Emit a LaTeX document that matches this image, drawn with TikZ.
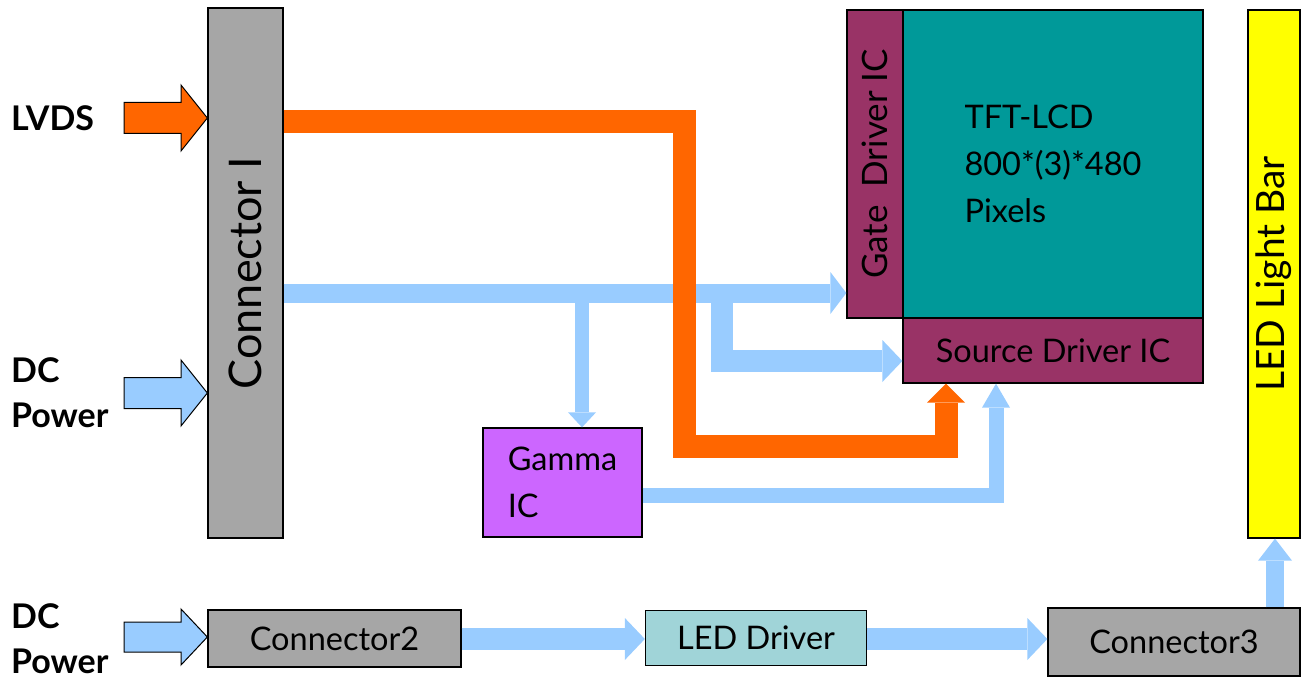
\documentclass[tikz,border=0pt]{standalone}
\usepackage{fontspec}
\usepackage{graphicx}
\setmainfont{Lato}
\usetikzlibrary{arrows.meta}
\definecolor{corange}{HTML}{FF6600}
\definecolor{cblue}{HTML}{99CCFF}
\definecolor{cgray}{HTML}{A6A6A6}
\definecolor{cmaroon}{HTML}{993366}
\definecolor{cteal}{HTML}{009999}
\definecolor{cpurple}{HTML}{CC66FF}
\definecolor{cyellow}{HTML}{FFFF00}
\definecolor{cledd}{HTML}{A0D4D8}
\tikzset{
  box/.style={draw=black, line width=1.3pt, inner sep=0pt, font=\fontsize{32.5}{47}\selectfont},
  inarrow/.style={draw=black, line width=1pt, line join=miter},
  inlabel/.style={anchor=west, align=left, inner sep=0pt, font=\fontsize{34}{45}\selectfont\bfseries},
  orangeln/.style={draw=corange, line width=23pt, -{Triangle[length=19pt,width=38pt,line width=0pt]}},
  bluemain/.style={draw=cblue, line width=19pt, -{Triangle[length=16pt,width=42pt,line width=0pt]}},
  bluethin/.style={draw=cblue, line width=14pt, -{Triangle[length=15pt,width=28pt,line width=0pt]}},
  bluewide/.style={draw=cblue, line width=22pt, -{Triangle[length=20pt,width=42pt,line width=0pt]}},
  bluegam/.style={draw=cblue, line width=15pt, -{Triangle[length=24pt,width=28pt,line width=0pt]}},
  bluebar/.style={draw=cblue, line width=18pt, -{Triangle[length=22pt,width=34pt,line width=0pt]}},
}
\begin{document}
\begin{tikzpicture}[x=1pt,y=-1pt]
\useasboundingbox (0,0) rectangle (1303,682);
% boxes
\node[box, fill=cgray, minimum width=75pt, minimum height=530pt] (con1) at (245.5,273)
  {\rotatebox{90}{\fontsize{45}{50}\selectfont Connector I}};
\node[box, fill=cmaroon, minimum width=56pt, minimum height=308pt] (gate) at (875,164)
  {\rotatebox{90}{\fontsize{35}{40}\selectfont Gate~ Driver IC}};
\node[box, fill=cteal, minimum width=300pt, minimum height=308pt, align=left] (tft) at (1053,164)
  {TFT-LCD\\800*(3)*480\\Pixels};
\node[box, fill=cmaroon, minimum width=300pt, minimum height=65pt] (src) at (1053,350.5) {Source Driver IC};
\node[box, fill=cyellow, minimum width=52pt, minimum height=528pt] (bar) at (1274,274)
  {\rotatebox{90}{\fontsize{39}{42}\selectfont LED Light Bar}};
\node[box, fill=cpurple, minimum width=159pt, minimum height=109pt, align=left] (gamma) at (562.5,482.5)
  {Gamma\\IC};
\node[box, fill=cgray, minimum width=253pt, minimum height=57pt] (con2) at (334.5,638.5) {Connector2};
\node[box, fill=cledd, minimum width=221pt, minimum height=55pt] (led) at (756,638) {LED Driver};
\node[box, fill=cgray, minimum width=252pt, minimum height=68pt] (con3) at (1174,642) {Connector3};
% input block arrows
\draw[inarrow, fill=corange] (124,102.5) -- (181,102.5) -- (181,85) -- (con1.west |- 0,118)
  -- (181,151) -- (181,133.5) -- (124,133.5) -- cycle;
\draw[inarrow, fill=cblue] (124,377.5) -- (181,377.5) -- (181,360) -- (con1.west |- 0,393)
  -- (181,426) -- (181,408.5) -- (124,408.5) -- cycle;
\draw[inarrow, fill=cblue] (124,622) -- (181,622) -- (181,609) -- (con2.west |- 0,637)
  -- (181,665) -- (181,652) -- (124,652) -- cycle;
% labels
\node[inlabel] (lvds) at (11,118) {LVDS};
\node[inlabel] (dc1) at (11,393) {DC\\Power};
\node[inlabel] (dc2) at (11,639) {DC\\Power};
% junction coordinates
\coordinate (bj1) at (582,293);
\coordinate (bj2) at (722,293);
\coordinate (oc) at (684,446);
% blue connectors
\draw[bluemain] (con1.east |- bj1) -- (gate.west |- bj1);
\draw[bluethin] (bj1) -- (gamma.north -| bj1);
\draw[bluewide] (bj2) |- (src.west |- 0,361);
\draw[bluegam] (gamma.east |- 0,495) -| (src.south -| 996,0);
% orange connector
\draw[orangeln] (con1.east |- 0,122) -| (oc) -| (src.south -| 946,0);
% bottom connectors
\draw[bluewide] (con2.east |- 0,639) -- (led.west |- 0,639);
\draw[bluewide] (led.east |- 0,639) -- (con3.west |- 0,639);
\draw[bluebar] (con3.north -| 1275,0) -- (bar.south -| 1275,0);
\end{tikzpicture}
\end{document}
